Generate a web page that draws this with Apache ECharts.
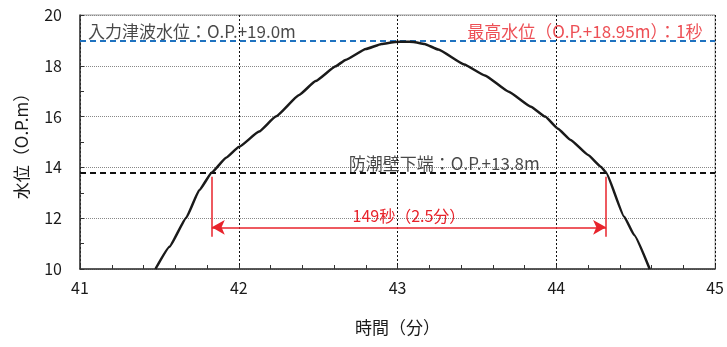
<!DOCTYPE html>
<html>
<head>
<meta charset="utf-8">
<script src="https://cdn.jsdelivr.net/npm/echarts@6/dist/echarts.min.js"></script>
<style>
  html, body { margin: 0; padding: 0; background: #fff; }
  #chart { width: 727px; height: 347px; }
</style>
</head>
<body>
<div id="chart"></div>
<script>
// Tsunami water level time history (minutes vs. O.P. metres)
const timeMin = [41.475, 41.564, 41.669, 41.752, 41.83, 41.92, 42.0, 42.128, 42.233, 42.38, 42.484, 42.61, 42.672, 42.80, 42.90, 42.985, 43.05, 43.10, 43.17, 43.257, 43.42, 43.55, 43.70, 43.84, 43.93, 44.01, 44.09, 44.20, 44.28, 44.313, 44.427, 44.49, 44.588];
const waterLevel = [10.0, 10.88, 12.02, 13.11, 13.8, 14.38, 14.8, 15.41, 16.0, 16.85, 17.40, 17.98, 18.23, 18.66, 18.86, 18.94, 18.95, 18.94, 18.86, 18.64, 18.05, 17.62, 16.98, 16.39, 16.0, 15.52, 15.08, 14.49, 14.03, 13.8, 12.06, 11.34, 10.0];

const xTicks = [41, 42, 43, 44, 45];
const yTicks = [10, 12, 14, 16, 18, 20];

const inputLevel = 19.0;      // 入力津波水位
const peakLevel = 18.95;      // 最高水位
const peakSeconds = 1;
const wallBottom = 13.8;      // 防潮壁下端
const overtopStart = 41.83;   // 防潮壁下端を超える時刻 (分)
const overtopSeconds = 149;   // 超過継続時間 (秒)

const overtopEnd = overtopStart + overtopSeconds / 60;
const overtopMinutes = (overtopSeconds / 60).toFixed(1);

const RED = '#e8232b';
const BLUE = '#1f72c0';
const TEXT = '#1a1a1a';
const FONT = '"Noto Sans CJK JP", "Noto Sans", sans-serif';

const chart = echarts.init(document.getElementById('chart'), null, { renderer: 'canvas' });

const curve = timeMin.map((t, i) => [t, waterLevel[i]]);

// vertical positions for the duration arrow, in axis units
const arrowY = 11.64;
const barTop = 13.63;
const barBottom = 11.27;

const textLabel = (txt, color, align) => ({
  show: true,
  formatter: txt,
  position: [0, 0],
  align: align,
  verticalAlign: 'bottom',
  color: color,
  fontFamily: FONT,
  fontSize: 17,
  lineHeight: 17
});

chart.setOption({
  animation: false,
  backgroundColor: '#fff',
  grid: {
    left: 80, top: 15, right: 9, bottom: 78,
    show: true, borderColor: '#999', borderWidth: 1
  },
  xAxis: {
    type: 'value',
    min: xTicks[0], max: xTicks[xTicks.length - 1], interval: 1,
    name: '時間（分）',
    nameLocation: 'middle',
    nameGap: 50,
    nameTextStyle: { color: TEXT, fontFamily: FONT, fontSize: 17 },
    axisLine: { lineStyle: { color: '#333', width: 1.5 } },
    axisTick: { inside: true, length: 4, lineStyle: { color: '#333' } },
    minorTick: { show: true, splitNumber: 5, length: 4, lineStyle: { color: '#333' } },
    axisLabel: { color: TEXT, fontFamily: FONT, fontSize: 16, margin: 11 },
    splitLine: { show: true, lineStyle: { color: '#111', width: 1, type: [2, 2] } }
  },
  yAxis: {
    type: 'value',
    min: yTicks[0], max: yTicks[yTicks.length - 1], interval: 2,
    name: '水位（O.P.m）',
    nameLocation: 'middle',
    nameGap: 50,
    nameRotate: 90,
    nameTextStyle: { color: TEXT, fontFamily: FONT, fontSize: 17 },
    axisLine: { show: true, lineStyle: { color: '#333', width: 1.5 } },
    axisTick: { show: true, inside: true, length: 4, lineStyle: { color: '#333' } },
    minorTick: { show: true, splitNumber: 2, length: 4, lineStyle: { color: '#333' } },
    axisLabel: { color: TEXT, fontFamily: FONT, fontSize: 16, margin: 18 },
    splitLine: { show: true, lineStyle: { color: '#888', width: 1, type: [1, 1] } }
  },
  series: [
    {
      name: '水位',
      type: 'line',
      data: curve,
      showSymbol: false,
      smooth: 0.12,
      smoothMonotone: 'x',
      lineStyle: { color: '#1a1a1a', width: 2.5 },
      z: 5,
      markLine: {
        silent: true,
        symbol: 'none',
        label: { show: false },
        data: [
          { yAxis: inputLevel, lineStyle: { color: BLUE, width: 2.2, type: [6, 4] } },
          { yAxis: wallBottom, lineStyle: { color: '#111', width: 2.2, type: [6, 4] } }
        ]
      }
    },
    {
      name: '継続時間',
      type: 'line',
      data: [],
      markLine: {
        silent: true,
        symbol: 'none',
        lineStyle: { color: RED, width: 1.5, type: 'solid' },
        label: { show: false },
        data: [
          [{ coord: [overtopStart, barTop] }, { coord: [overtopStart, barBottom] }],
          [{ coord: [overtopEnd, barTop] }, { coord: [overtopEnd, barBottom] }],
          [
            {
              coord: [overtopStart, arrowY],
              symbol: 'arrow', symbolSize: [11, 13],
              label: {
                show: true, position: 'middle', distance: 3,
                formatter: overtopSeconds + '秒（' + overtopMinutes + '分）',
                color: RED, fontFamily: FONT, fontSize: 16
              }
            },
            { coord: [overtopEnd, arrowY], symbol: 'arrow', symbolSize: [11, 13] }
          ]
        ]
      }
    },
    {
      name: '注記',
      type: 'scatter',
      symbolSize: 0,
      silent: true,
      data: [
        { value: [41.05, inputLevel], label: textLabel('入力津波水位：O.P.+' + inputLevel.toFixed(1) + 'm', TEXT, 'left') },
        { value: [44.92, inputLevel], label: textLabel('最高水位（O.P.+' + peakLevel + 'm）：' + peakSeconds + '秒', RED, 'right') },
        { value: [42.693, wallBottom], label: textLabel('防潮壁下端：O.P.+' + wallBottom + 'm', TEXT, 'left') }
      ],
      z: 6
    }
  ]
});
</script>
</body>
</html>
